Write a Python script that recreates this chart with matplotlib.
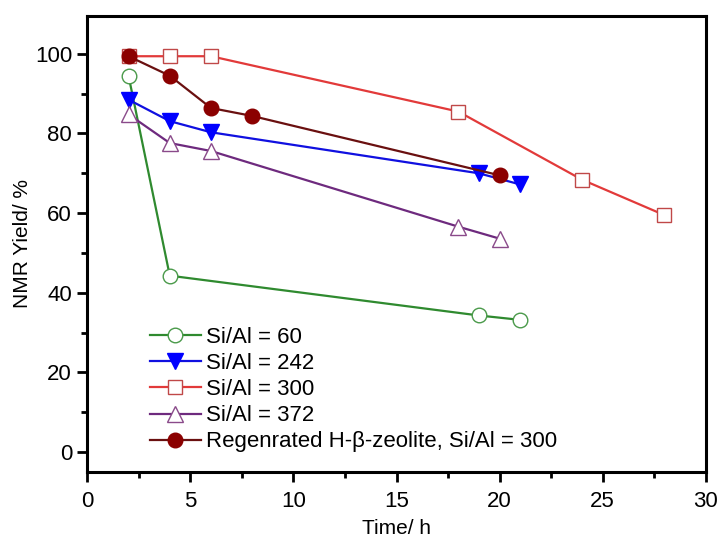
import matplotlib
matplotlib.use("Agg")
import matplotlib.pyplot as plt
from matplotlib.ticker import MultipleLocator

plt.rcParams['font.family'] = ['Liberation Sans', 'DejaVu Sans']

# Data
t_60 = [2, 4, 19, 21]
y_60 = [94.5, 44.3, 34.3, 33.2]
t_242 = [2, 4, 6, 19, 21]
y_242 = [88.5, 83.1, 80.3, 70.0, 67.2]
t_300 = [2, 4, 6, 18, 24, 28]
y_300 = [99.4, 99.4, 99.4, 85.5, 68.4, 59.5]
t_372 = [2, 4, 6, 18, 20]
y_372 = [84.8, 77.6, 75.6, 56.6, 53.6]
t_reg = [2, 4, 6, 8, 20]
y_reg = [99.4, 94.5, 86.4, 84.4, 69.5]

labels = ["Si/Al = 60", "Si/Al = 242", "Si/Al = 300", "Si/Al = 372",
          "Regenrated H-\u03b2-zeolite, Si/Al = 300"]

fig = plt.figure(figsize=(7.22, 5.39), dpi=100)
ax = fig.add_axes([87.3/722, 67/539, 618.4/722, 456/539])

lw = 1.6
ax.plot(t_60, y_60, '-o', color='#2f8a2f', lw=lw, ms=10.5, mfc='white',
        mec='#4a9a4a', mew=1.0, label=labels[0])
ax.plot(t_242, y_242, '-v', color='#1010e0', lw=lw, ms=11, mfc='#0000ff',
        mec='#0000ff', label=labels[1])
ax.plot(t_300, y_300, '-s', color='#e23a3a', lw=lw, ms=9.5, mfc='white',
        mec='#c04848', mew=1.0, label=labels[2])
ax.plot(t_372, y_372, '-^', color='#6e2a7e', lw=lw, ms=11, mfc='white',
        mec='#8a4a8a', mew=1.0, label=labels[3])
ax.plot(t_reg, y_reg, '-o', color='#6a1010', lw=lw, ms=10.5, mfc='#8b0000',
        mec='#8b0000', label=labels[4])

ax.set_xlim(0, 30)
ax.set_ylim(-5, 109.5)
ax.xaxis.set_major_locator(MultipleLocator(5))
ax.xaxis.set_minor_locator(MultipleLocator(2.5))
ax.yaxis.set_major_locator(MultipleLocator(20))
ax.yaxis.set_minor_locator(MultipleLocator(10))
ax.set_yticks(range(0, 101, 20))

for s in ax.spines.values():
    s.set_linewidth(2.2)
ax.tick_params(which='major', direction='out', length=7, width=2.0,
               labelsize=16, pad=4, top=False, right=False)
ax.tick_params(axis='x', which='major', pad=7)
ax.tick_params(which='minor', direction='out', length=4, width=2.0,
               top=False, right=False)

ax.set_xlabel("Time/ h", fontsize=15, labelpad=5)
ax.set_ylabel("NMR Yield/ %", fontsize=15, labelpad=2)

leg = ax.legend(loc='upper left', bbox_to_anchor=(0.101, 0.318), frameon=False,
                fontsize=16, borderpad=0, borderaxespad=0, labelspacing=0.23,
                handlelength=2.3, handletextpad=0.25)

fig.savefig("out.png", dpi=100)
